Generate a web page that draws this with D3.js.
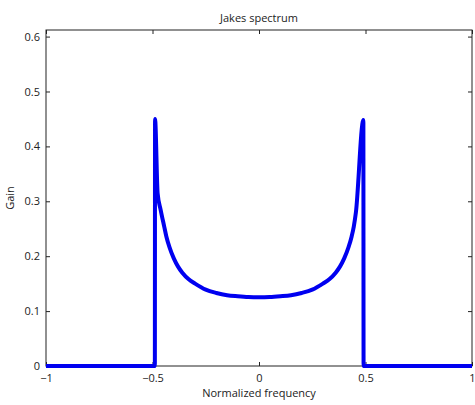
<!DOCTYPE html>
<html>
<head>
<meta charset="utf-8">
<script src="https://cdn.jsdelivr.net/npm/d3@7"></script>
<style>
  body { margin: 0; background: #fff; }
  text { font-family: "Open Sans", "DejaVu Sans", sans-serif; fill: #222; }
</style>
</head>
<body>
<script>
// values
const freq = [-1, -0.489, -0.488, -0.476, -0.462, -0.445, -0.435, -0.42, -0.4, -0.38, -0.36, -0.33,
              -0.3, -0.25, -0.2, -0.15, -0.1, -0.05, 0, 0.05, 0.1, 0.15, 0.2, 0.25, 0.3,
              0.33, 0.36, 0.38, 0.4, 0.42, 0.435, 0.445, 0.455, 0.49, 0.491, 1];
const gain = [0, 0, 0.45, 0.315, 0.285, 0.254, 0.236, 0.216, 0.196, 0.181, 0.170, 0.158,
              0.150, 0.139, 0.133, 0.129, 0.127, 0.1255, 0.125, 0.1255, 0.127, 0.129, 0.133, 0.139, 0.150,
              0.158, 0.170, 0.181, 0.196, 0.216, 0.236, 0.254, 0.28, 0.448, 0, 0];
const xTicks = [-1, -0.5, 0, 0.5, 1];
const yTicks = [0, 0.1, 0.2, 0.3, 0.4, 0.5, 0.6];

let margin = {top: 30, right: 3, bottom: 39, left: 46};
let svgWidth = 475, svgHeight = 405;
let width = svgWidth - margin.left - margin.right, height = svgHeight - margin.top - margin.bottom;

let x = d3.scaleLinear().domain([-1, 1]).range([0, width]),
    y = d3.scaleLinear().domain([0, 0.612]).range([height, 0]);

let svg = d3.select("body").append("svg")
    .attr("width", svgWidth)
    .attr("height", svgHeight);

let g = svg.append("g")
    .attr("transform", "translate(" + margin.left + "," + margin.top + ")");

const fmt = d => d < 0 ? "\u2212" + Math.abs(d) : String(d);

// axes, MATLAB style: ticks pointing inward, box on
function styleAxis(sel) {
    sel.select(".domain").remove();
    sel.selectAll("line").attr("stroke", "#222");
    sel.selectAll("text").style("font-size", "11px").attr("fill", "#222");
}

g.append("g")
    .attr("transform", "translate(0," + height + ")")
    .call(d3.axisBottom(x).tickValues(xTicks).tickFormat(fmt).tickSizeInner(-4).tickSizeOuter(0).tickPadding(8))
    .call(styleAxis);

g.append("g")
    .call(d3.axisTop(x).tickValues(xTicks).tickFormat("").tickSizeInner(-4).tickSizeOuter(0))
    .call(styleAxis);

g.append("g")
    .call(d3.axisLeft(y).tickValues(yTicks).tickFormat(d3.format(".1~f")).tickSizeInner(-4).tickSizeOuter(0).tickPadding(6))
    .call(styleAxis);

g.append("g")
    .attr("transform", "translate(" + width + ",0)")
    .call(d3.axisRight(y).tickValues(yTicks).tickFormat("").tickSizeInner(-4).tickSizeOuter(0))
    .call(styleAxis);

g.append("rect")
    .attr("width", width)
    .attr("height", height)
    .attr("fill", "none")
    .attr("stroke", "#222")
    .attr("stroke-width", 1);

// the spectrum line
let points = freq.map((f, i) => [f, gain[i]]);
g.append("path")
    .datum(points)
    .attr("fill", "none")
    .attr("stroke", "#0000f0")
    .attr("stroke-width", 4)
    .attr("stroke-linejoin", "round")
    .attr("d", d3.line().x(d => x(d[0])).y(d => y(d[1])).curve(d3.curveMonotoneX));

// labels
svg.append("text")
    .attr("x", margin.left + width / 2)
    .attr("y", 22)
    .attr("text-anchor", "middle")
    .style("font-size", "11px")
    .text("Jakes spectrum");

svg.append("text")
    .attr("x", margin.left + width / 2)
    .attr("y", 397)
    .attr("text-anchor", "middle")
    .style("font-size", "11px")
    .text("Normalized frequency");

svg.append("text")
    .attr("transform", "translate(14," + (margin.top + height / 2) + ") rotate(-90)")
    .attr("text-anchor", "middle")
    .style("font-size", "11px")
    .text("Gain");
</script>
</body>
</html>
